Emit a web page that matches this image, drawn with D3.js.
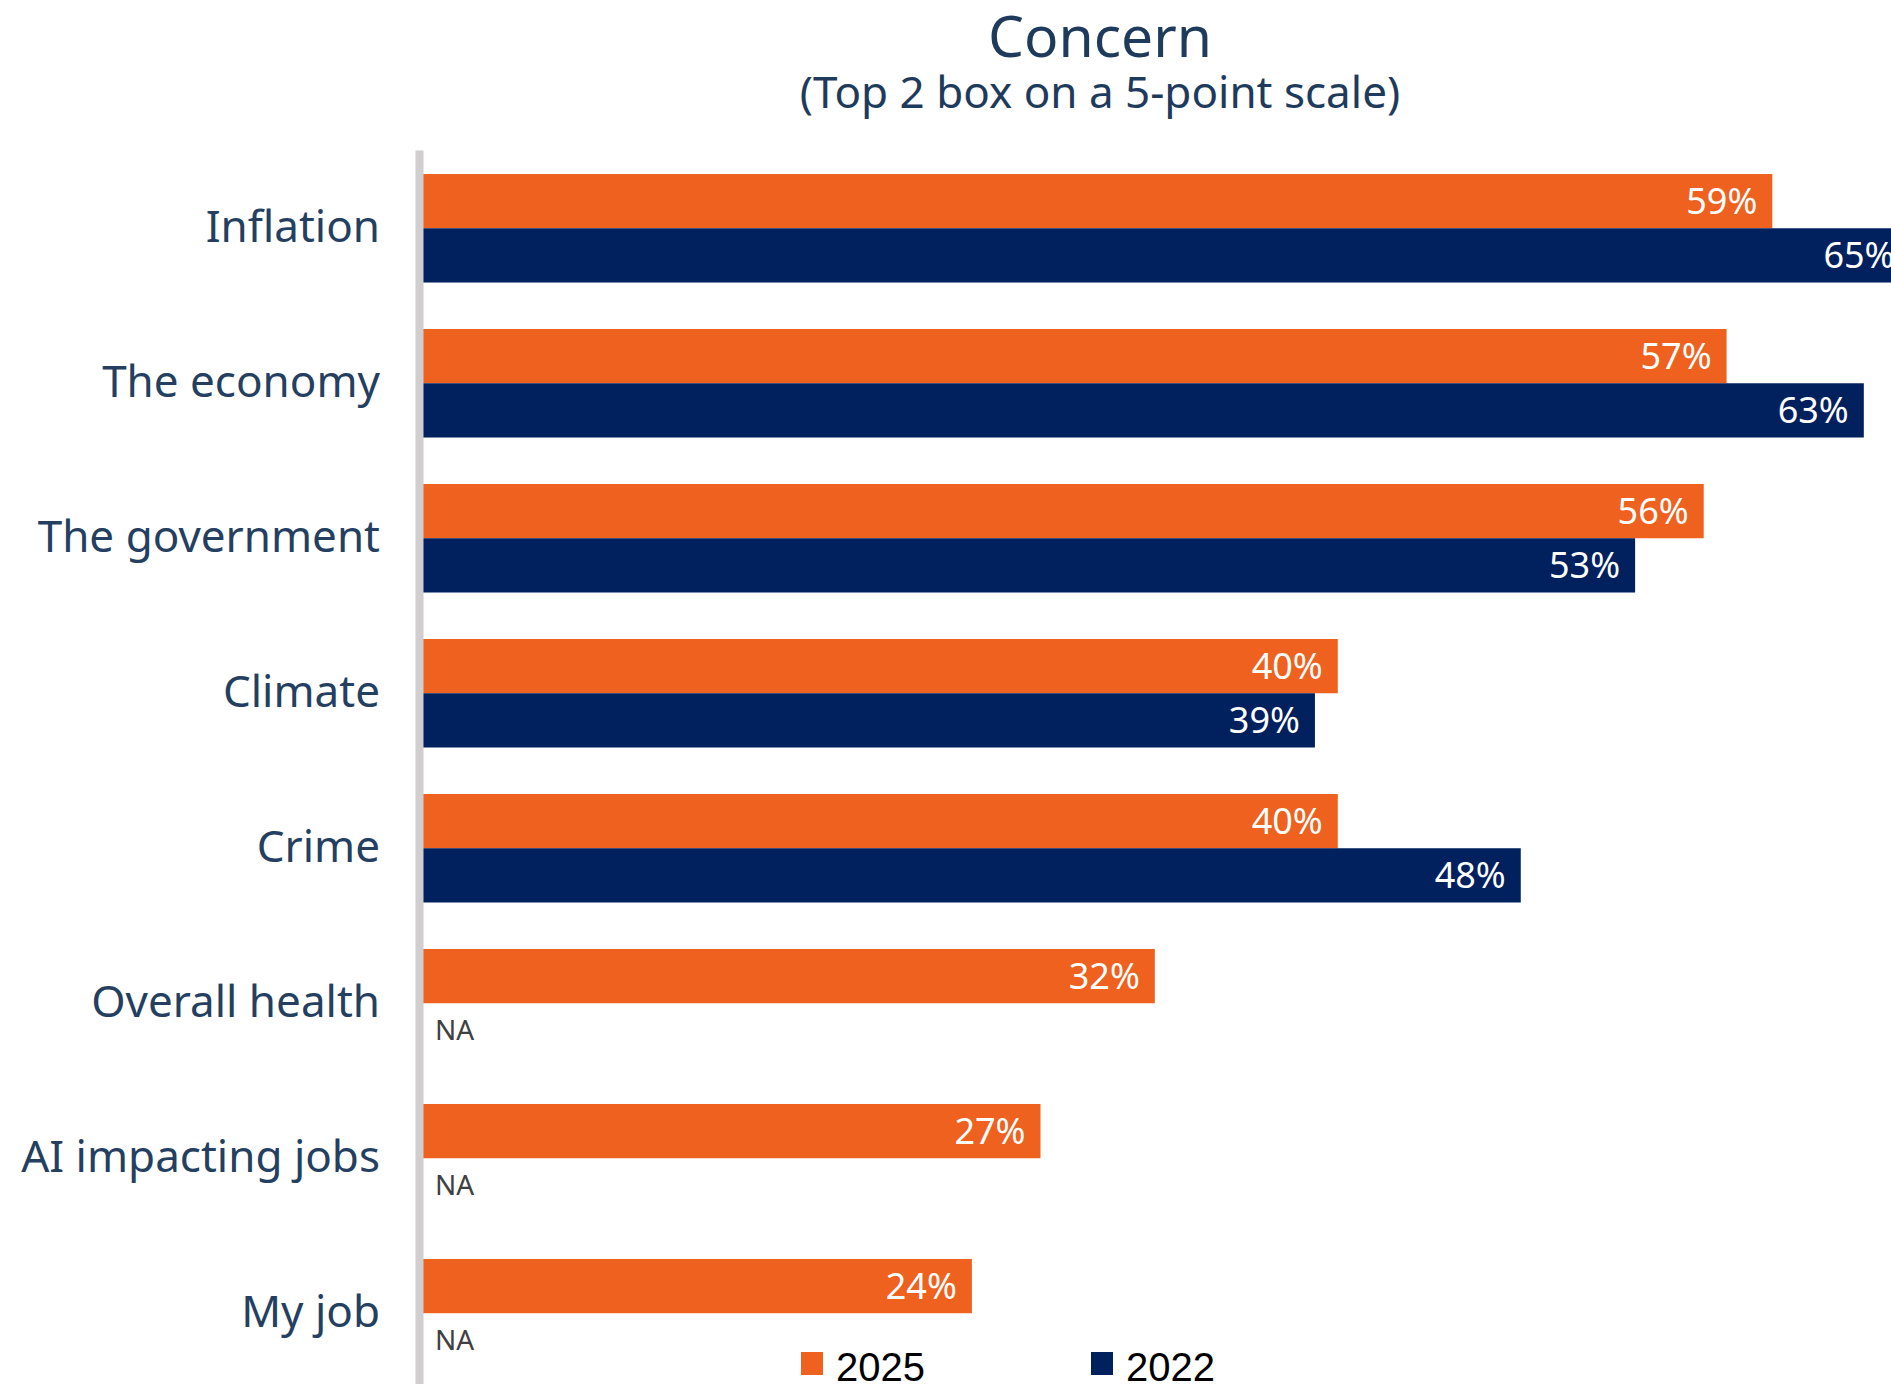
<!DOCTYPE html>
<html>
<head>
<meta charset="utf-8">
<script src="https://cdn.jsdelivr.net/npm/d3@7"></script>
<style>
  body { margin: 0; background: #fff; }
  svg { display: block; }
</style>
</head>
<body>
<div id="chart-area"></div>
<script>
var categories = ["Inflation", "The economy", "The government", "Climate", "Crime", "Overall health", "AI impacting jobs", "My job"];
var series = ["2025", "2022"];
var values2025 = [59, 57, 56, 40, 40, 32, 27, 24];
var values2022 = [65, 63, 53, 39, 48, null, null, null];

var colors = { "2025": "#EE611E", "2022": "#00205E" };

var width = 1891;
var height = 1384;

var svg = d3.select("#chart-area")
  .append("svg")
  .attr("width", width)
  .attr("height", height);

var data = categories.map((c, i) => ({
  name: c,
  values: [
    { key: "2025", value: values2025[i] },
    { key: "2022", value: values2022[i] }
  ]
}));

var axisX = 419;

var x = d3.scaleLinear()
  .domain([0, 100])
  .range([axisX + 4, axisX + 4 + 2287]);

var y = d3.scaleBand()
  .domain(categories)
  .range([150, 1391.5])
  .paddingInner(0.3)
  .paddingOuter(0.155);

var ySub = d3.scaleBand()
  .domain(series)
  .range([0, y.bandwidth()]);

// title
svg.append("text")
  .attr("x", 1100)
  .attr("y", 57)
  .attr("text-anchor", "middle")
  .attr("font-family", "'Noto Sans', sans-serif")
  .attr("font-size", "57px")
  .attr("fill", "#1F3B5C")
  .text("Concern");

svg.append("text")
  .attr("x", 1100)
  .attr("y", 108)
  .attr("text-anchor", "middle")
  .attr("font-family", "'Noto Sans', sans-serif")
  .attr("font-size", "44px")
  .attr("fill", "#1F3B5C")
  .text("(Top 2 box on a 5-point scale)");

var groups = svg.selectAll(".cat")
  .data(data)
  .enter()
  .append("g")
  .attr("class", "cat")
  .attr("transform", d => "translate(0," + y(d.name) + ")");

groups.selectAll("rect")
  .data(d => d.values.filter(v => v.value != null))
  .enter()
  .append("rect")
  .attr("x", x(0))
  .attr("y", d => ySub(d.key))
  .attr("width", d => x(d.value) - x(0))
  .attr("height", ySub.bandwidth())
  .attr("fill", d => colors[d.key]);

// value labels inside bar ends
groups.selectAll(".val")
  .data(d => d.values.filter(v => v.value != null))
  .enter()
  .append("text")
  .attr("class", "val")
  .attr("x", d => x(d.value) - 15)
  .attr("y", d => ySub(d.key) + ySub.bandwidth() / 2)
  .attr("dy", "0.36em")
  .attr("text-anchor", "end")
  .attr("font-family", "'Noto Sans', sans-serif")
  .attr("font-size", "36px")
  .attr("fill", "#fff")
  .text(d => d.value + "%");

// NA for missing values
groups.selectAll(".na")
  .data(d => d.values.filter(v => v.value == null))
  .enter()
  .append("text")
  .attr("class", "na")
  .attr("x", x(0) + 12)
  .attr("y", d => ySub(d.key) + ySub.bandwidth() / 2)
  .attr("dy", "0.36em")
  .attr("font-family", "'Noto Sans', sans-serif")
  .attr("font-size", "28px")
  .attr("fill", "#404040")
  .text("NA");

// category axis
var yAxisCall = d3.axisLeft(y)
  .tickSize(0)
  .tickPadding(39);

var yAxis = svg.append("g")
  .attr("class", "y axis")
  .attr("transform", "translate(" + axisX + ",0)")
  .call(yAxisCall);

yAxis.select(".domain")
  .attr("stroke", "#D0CECE")
  .attr("stroke-width", 8);

yAxis.selectAll("text")
  .attr("font-family", "'Noto Sans', sans-serif")
  .attr("font-size", "44px")
  .attr("fill", "#243F60");

// legend
var legendX = [801, 1091];
var legend = svg.selectAll(".legend")
  .data(series)
  .enter()
  .append("g")
  .attr("class", "legend")
  .attr("transform", (d, i) => "translate(" + legendX[i] + ",1352)");

legend.append("rect")
  .attr("width", 22)
  .attr("height", 23)
  .attr("fill", d => colors[d]);

legend.append("text")
  .attr("x", 35)
  .attr("y", 29)
  .attr("font-family", "'Liberation Sans', Arial, sans-serif")
  .attr("font-size", "40px")
  .attr("fill", "#000")
  .text(d => d);
</script>
</body>
</html>
